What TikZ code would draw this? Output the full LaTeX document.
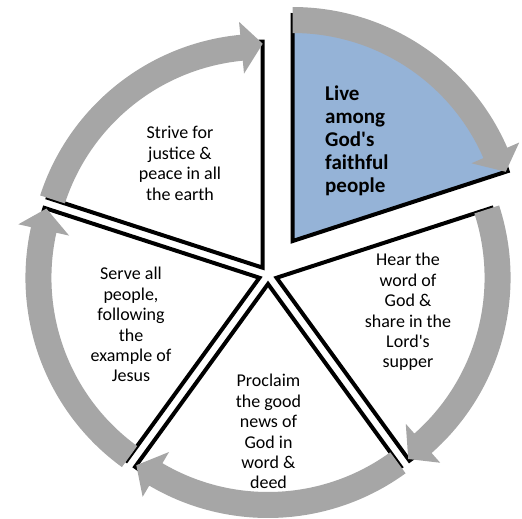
\documentclass[tikz,border=0pt]{standalone}
\usepackage{fontspec}
\setmainfont{Carlito}[Ligatures=TeXOff]
\usetikzlibrary{calc}
\definecolor{bandgray}{RGB}{166,166,166}
\definecolor{liveblue}{RGB}{149,179,215}
\tikzset{
  sectorline/.style={draw=black, line width=4pt, line join=miter},
  bandarrow/.style={fill=bandgray, draw=none},
  steptext/.style={inner sep=0pt, anchor=base, font=\fontsize{18}{20.4}\selectfont},
  livetext/.style={inner sep=0pt, anchor=base west, font=\bfseries\fontsize{21}{23}\selectfont},
}
\newcommand\cycsec[4]{% apex, start angle, end angle, fill
  \begin{scope}[shift={(#1)}]
    \path[sectorline, fill=#4] (0,0) -- (#2:226pt) arc[start angle=#2, end angle=#3, radius=226pt] -- cycle;
    \path[bandarrow] (#2:208pt) arc[start angle=#2, end angle=#3+5.5, radius=208pt]
      -- (#3+5.5:195pt) -- (#3:224pt) -- (#3+5.5:247pt) -- (#3+5.5:234pt)
      arc[start angle=#3+5.5, end angle=#2, radius=234pt] -- cycle;
  \end{scope}}
\begin{document}
\begin{tikzpicture}[x=1pt, y=1pt]
  \useasboundingbox (0,0) rectangle (522,519);
  \coordinate (C) at (268,244);
  \coordinate (aLive)     at ($(C)+(54:42pt)$);
  \coordinate (aHear)     at ($(C)+(342:9pt)$);
  \coordinate (aProclaim) at ($(C)+(270:9pt)$);
  \coordinate (aServe)    at ($(C)+(198:9pt)$);
  \coordinate (aStrive)   at ($(C)+(126:9pt)$);

  \cycsec{aLive}{90}{18}{liveblue}
  \cycsec{aHear}{18}{-54}{white}
  \cycsec{aProclaim}{-54}{-126}{white}
  \cycsec{aServe}{234}{162}{white}
  \cycsec{aStrive}{162}{90}{white}

  \node[livetext] (live) at (325,418)
    {\begin{tabular}[t]{@{}l@{}}Live\\among\\God's\\faithful\\people\end{tabular}};
  \node[steptext] (hear) at (408,253)
    {\begin{tabular}[t]{@{}c@{}}Hear the\\word of\\God \&\\share in the\\Lord's\\supper\end{tabular}};
  \node[steptext] (proclaim) at (268.5,132)
    {\begin{tabular}[t]{@{}c@{}}Proclaim\\the good\\news of\\God in\\word \&\\deed\end{tabular}};
  \node[steptext] (serve) at (131,239)
    {\begin{tabular}[t]{@{}c@{}}Serve all\\people,\\following\\the\\example of\\Jesus\end{tabular}};
  \node[steptext] (strive) at (180,380)
    {\begin{tabular}[t]{@{}c@{}}Strive for\\justice \&\\peace in all\\the earth\end{tabular}};
\end{tikzpicture}
\end{document}
